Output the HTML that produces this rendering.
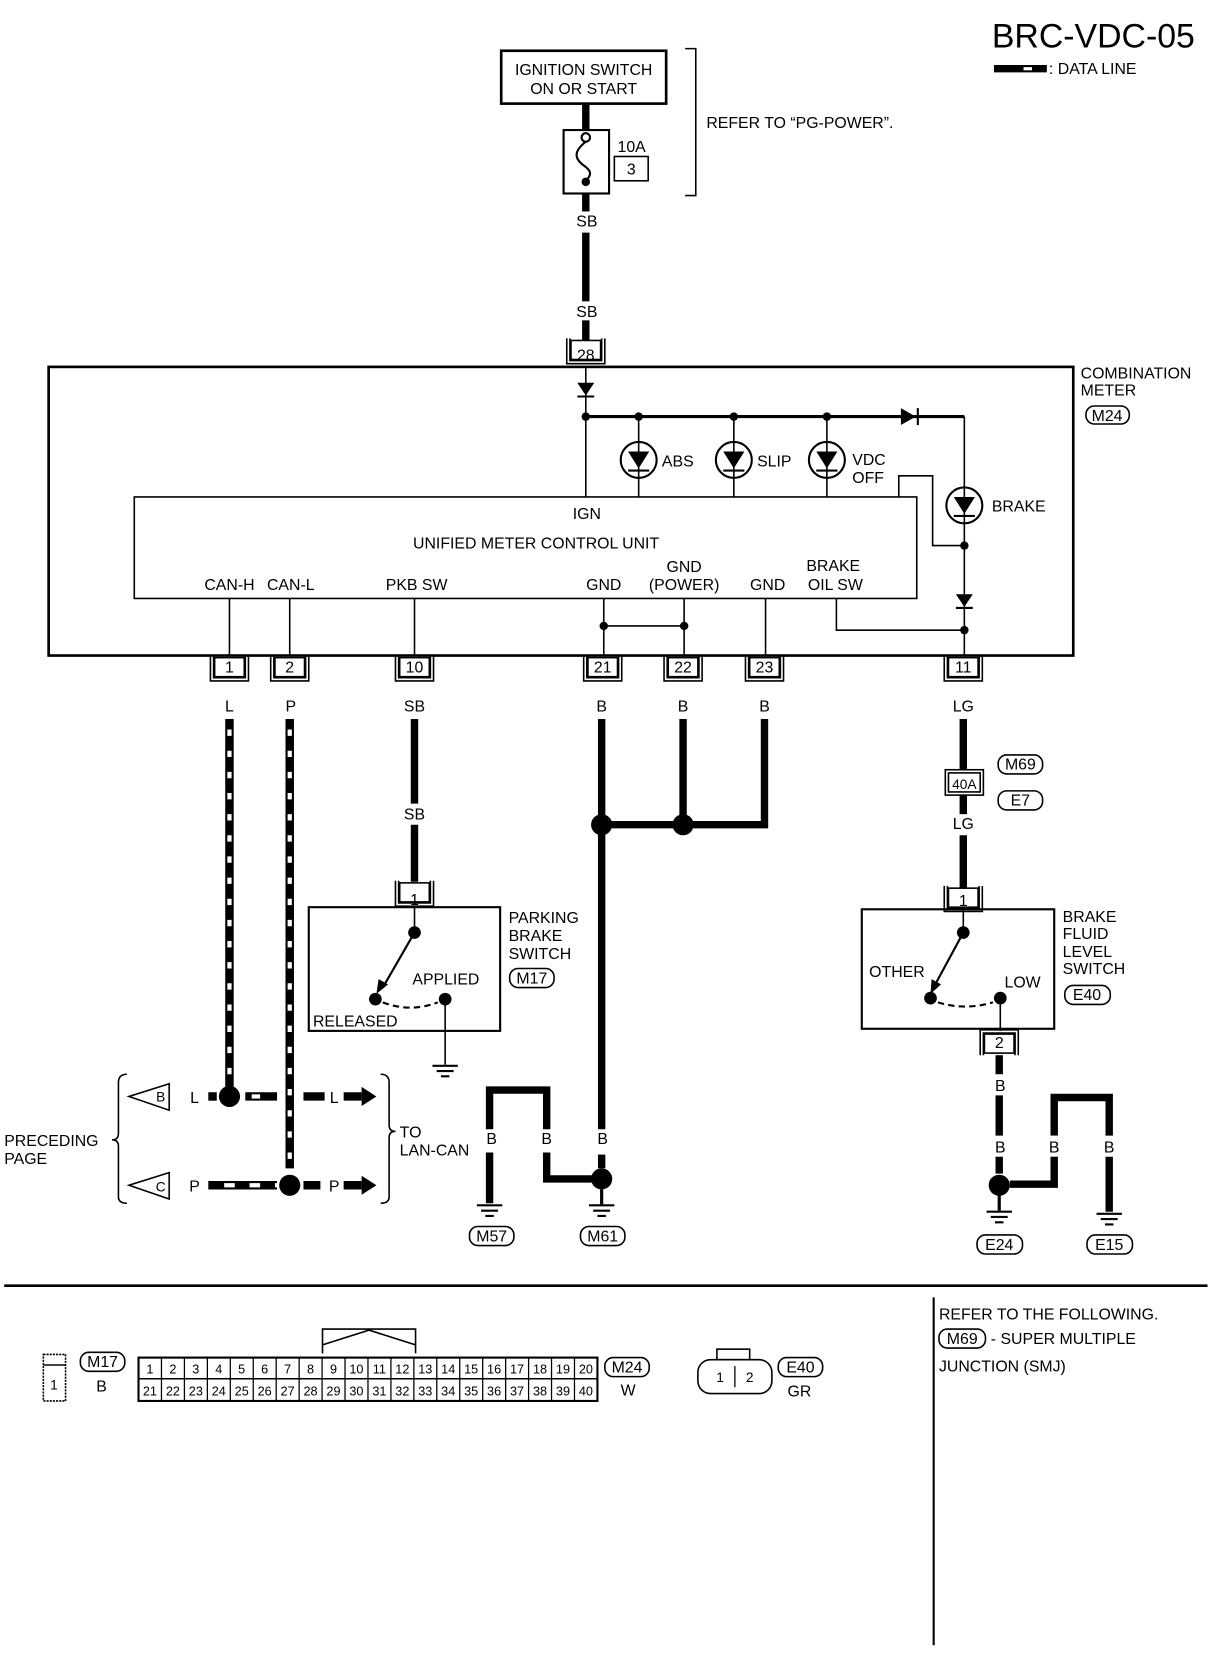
<!DOCTYPE html>
<html><head><meta charset="utf-8"><style>
html,body{margin:0;padding:0;background:#fff;width:1216px;height:1660px;overflow:hidden}
svg{display:block}
text{font-family:"Liberation Sans",sans-serif;font-size:15px;fill:#000}
</style></head><body>
<svg width="1216" height="1660" viewBox="0 0 1150 1570" preserveAspectRatio="none" xmlns="http://www.w3.org/2000/svg">
<defs>
<g id="conn"><rect x="-14" y="2" width="28" height="18" fill="#fff" stroke="#000" stroke-width="1.5"/><path d="M-18,0 V24 H18 V0 M-15,0 V21 H15 V0" fill="none" stroke="#000" stroke-width="1.5"/></g>
<g id="gnd"><path d="M-12,0 H12 M-8,5 H8 M-4,10 H4" stroke="#000" stroke-width="2"/></g>
</defs>
<rect width="1150" height="1570" fill="#fff"/>
<text x="1130" y="45" font-size="32" text-anchor="end" style="font-size:32px">BRC-VDC-05</text>
<line x1="940" y1="65" x2="990" y2="65" stroke="#000" stroke-width="7"/>
<line x1="968" y1="65" x2="976" y2="65" stroke="#fff" stroke-width="3"/>
<text x="992" y="70">: DATA LINE</text>

<!-- ignition -->
<rect x="474" y="48" width="156" height="50" fill="#fff" stroke="#000" stroke-width="2.5"/>
<text x="552" y="71" text-anchor="middle">IGNITION SWITCH</text>
<text x="552" y="89" text-anchor="middle">ON OR START</text>
<line x1="554" y1="98" x2="554" y2="123" stroke="#000" stroke-width="7"/>
<rect x="533" y="123" width="43" height="60" fill="#fff" stroke="#000" stroke-width="2"/>
<circle cx="554" cy="130" r="4" fill="#fff" stroke="#000" stroke-width="2"/>
<path d="M554,134 C540,145 545,152 554,158 C562,164 556,168 554,172" fill="none" stroke="#000" stroke-width="2"/>
<circle cx="554" cy="172" r="4"/>
<text x="584" y="144">10A</text>
<rect x="581" y="148" width="32" height="23" fill="none" stroke="#000" stroke-width="1.5"/>
<text x="597" y="165" text-anchor="middle">3</text>
<path d="M648,46 H658 V185 H648" fill="none" stroke="#000" stroke-width="1.5"/>
<text x="668" y="121">REFER TO “PG-POWER”.</text>
<line x1="554" y1="183" x2="554" y2="200" stroke="#000" stroke-width="7"/>
<text x="555" y="214" text-anchor="middle">SB</text>
<line x1="554" y1="220" x2="554" y2="285" stroke="#000" stroke-width="7"/>
<text x="555" y="300" text-anchor="middle">SB</text>
<line x1="554" y1="303" x2="554" y2="322" stroke="#000" stroke-width="7"/>
<use href="#conn" x="554" y="320"/><text x="554" y="341" text-anchor="middle">28</text>

<!-- combination meter -->
<rect x="46" y="347" width="969" height="273" fill="none" stroke="#000" stroke-width="2.5"/>
<text x="1022" y="358">COMBINATION</text><text x="1022" y="374">METER</text>
<rect x="1027" y="384" width="41" height="17" rx="8" fill="none" stroke="#000" stroke-width="1.5"/><text x="1047" y="398" text-anchor="middle">M24</text>
<g stroke="#000" stroke-width="1.5" fill="none">
<line x1="554" y1="347" x2="554" y2="470"/>
<line x1="604" y1="394" x2="604" y2="470"/>
<line x1="694" y1="394" x2="694" y2="470"/>
<line x1="782" y1="394" x2="782" y2="470"/>
<line x1="912" y1="394" x2="912" y2="620"/>
<path d="M850,470 V450 H882 V516 H912"/>
<rect x="127" y="470" width="740" height="96" fill="#fff"/>
<line x1="217" y1="566" x2="217" y2="620"/><line x1="274" y1="566" x2="274" y2="620"/>
<line x1="392" y1="566" x2="392" y2="620"/><line x1="571" y1="566" x2="571" y2="620"/>
<line x1="647" y1="566" x2="647" y2="620"/><line x1="724" y1="566" x2="724" y2="620"/>
<line x1="571" y1="592" x2="647" y2="592"/>
<path d="M791,566 V596 H912"/>
</g>
<line x1="554" y1="394" x2="912" y2="394" stroke="#000" stroke-width="3"/>
<path d="M546,362 H562 L554,374 Z"/><line x1="546" y1="375" x2="562" y2="375" stroke="#000" stroke-width="2"/>
<path d="M852,386 V402 L866,394 Z"/><line x1="868" y1="386" x2="868" y2="402" stroke="#000" stroke-width="2"/>
<path d="M904,562 H920 L912,574 Z"/><line x1="904" y1="575" x2="920" y2="575" stroke="#000" stroke-width="2"/>
<g>
<circle cx="554" cy="394" r="4"/><circle cx="604" cy="394" r="4"/><circle cx="694" cy="394" r="4"/><circle cx="782" cy="394" r="4"/>
<circle cx="912" cy="516" r="4"/><circle cx="912" cy="596" r="4"/><circle cx="571" cy="592" r="4"/><circle cx="647" cy="592" r="4"/>
</g>
<g fill="#fff" stroke="#000" stroke-width="2">
<circle cx="604" cy="435" r="17"/><circle cx="694" cy="435" r="17"/><circle cx="782" cy="435" r="17"/><circle cx="912" cy="478" r="17"/>
</g>
<g>
<path d="M594,427 H614 L604,443 Z"/><line x1="594" y1="445" x2="614" y2="445" stroke="#000" stroke-width="2"/><line x1="604" y1="418" x2="604" y2="452" stroke="#000" stroke-width="1.5"/>
<path d="M684,427 H704 L694,443 Z"/><line x1="684" y1="445" x2="704" y2="445" stroke="#000" stroke-width="2"/><line x1="694" y1="418" x2="694" y2="452" stroke="#000" stroke-width="1.5"/>
<path d="M772,427 H792 L782,443 Z"/><line x1="772" y1="445" x2="792" y2="445" stroke="#000" stroke-width="2"/><line x1="782" y1="418" x2="782" y2="452" stroke="#000" stroke-width="1.5"/>
<path d="M902,470 H922 L912,486 Z"/><line x1="902" y1="488" x2="922" y2="488" stroke="#000" stroke-width="2"/><line x1="912" y1="461" x2="912" y2="495" stroke="#000" stroke-width="1.5"/>
</g>
<text x="626" y="441">ABS</text><text x="716" y="441">SLIP</text><text x="806" y="440">VDC</text><text x="806" y="457">OFF</text><text x="938" y="484">BRAKE</text>
<text x="555" y="491" text-anchor="middle">IGN</text>
<text x="507" y="519" text-anchor="middle">UNIFIED METER CONTROL UNIT</text>
<text x="217" y="558" text-anchor="middle">CAN-H</text><text x="275" y="558" text-anchor="middle">CAN-L</text>
<text x="394" y="558" text-anchor="middle">PKB SW</text><text x="571" y="558" text-anchor="middle">GND</text>
<text x="647" y="541" text-anchor="middle">GND</text><text x="647" y="558" text-anchor="middle">(POWER)</text>
<text x="726" y="558" text-anchor="middle">GND</text>
<text x="788" y="540" text-anchor="middle">BRAKE</text><text x="790" y="558" text-anchor="middle">OIL SW</text>

<!-- connectors bottom -->
<use href="#conn" x="217" y="620"/><text x="217" y="636" text-anchor="middle">1</text>
<use href="#conn" x="274" y="620"/><text x="274" y="636" text-anchor="middle">2</text>
<use href="#conn" x="392" y="620"/><text x="392" y="636" text-anchor="middle">10</text>
<use href="#conn" x="570" y="620"/><text x="570" y="636" text-anchor="middle">21</text>
<use href="#conn" x="646" y="620"/><text x="646" y="636" text-anchor="middle">22</text>
<use href="#conn" x="723" y="620"/><text x="723" y="636" text-anchor="middle">23</text>
<use href="#conn" x="911" y="620"/><text x="911" y="636" text-anchor="middle">11</text>
<text x="217" y="673" text-anchor="middle">L</text><text x="275" y="673" text-anchor="middle">P</text>
<text x="392" y="673" text-anchor="middle">SB</text><text x="569" y="673" text-anchor="middle">B</text>
<text x="646" y="673" text-anchor="middle">B</text><text x="723" y="673" text-anchor="middle">B</text><text x="911" y="673" text-anchor="middle">LG</text>

<!-- data lines -->
<g stroke-width="8" stroke="#000" fill="none">
<line x1="217" y1="680" x2="217" y2="1030"/>
<line x1="274" y1="680" x2="274" y2="1105"/>
<line x1="197" y1="1037" x2="205" y2="1037"/><line x1="232" y1="1037" x2="262" y2="1037"/>
<line x1="287" y1="1037" x2="307" y2="1037"/><line x1="325" y1="1037" x2="342" y2="1037"/>
<line x1="197" y1="1121" x2="262" y2="1121"/><line x1="287" y1="1121" x2="303" y2="1121"/><line x1="325" y1="1121" x2="342" y2="1121"/>
</g>
<g stroke-width="4" stroke="#fff" stroke-dasharray="6 14" fill="none">
<line x1="217" y1="690" x2="217" y2="1025"/>
<line x1="274" y1="690" x2="274" y2="1100"/>
<line x1="238" y1="1037" x2="258" y2="1037" stroke-dasharray="8 30"/>
<line x1="212" y1="1121" x2="262" y2="1121" stroke-dasharray="10 14"/>
</g>
<circle cx="217" cy="1037" r="10"/><circle cx="274" cy="1121" r="10"/>
<path d="M342,1028 L356,1037 L342,1046 Z"/><path d="M342,1112 L356,1121 L342,1130 Z"/>
<path d="M160,1025 L122,1037 L160,1050 Z M160,1109 L122,1121 L160,1134 Z" fill="#fff" stroke="#000" stroke-width="1.5"/>
<text x="152" y="1042" text-anchor="middle" style="font-size:13px">B</text><text x="152" y="1127" text-anchor="middle" style="font-size:13px">C</text>
<text x="184" y="1043" text-anchor="middle">L</text><text x="316" y="1043" text-anchor="middle">L</text>
<text x="184" y="1127" text-anchor="middle">P</text><text x="316" y="1127" text-anchor="middle">P</text>
<path d="M120,1016 Q112,1016 112,1024 V1072 Q112,1078 106,1078 Q112,1078 112,1084 V1132 Q112,1138 120,1138" fill="none" stroke="#000" stroke-width="1.5"/>
<path d="M360,1016 Q368,1016 368,1024 V1064 Q368,1070 374,1070 Q368,1070 368,1076 V1132 Q368,1138 360,1138" fill="none" stroke="#000" stroke-width="1.5"/>
<text x="4" y="1084">PRECEDING</text><text x="4" y="1101">PAGE</text>
<text x="378" y="1076">TO</text><text x="378" y="1093">LAN-CAN</text>

<!-- parking brake -->
<g stroke="#000" stroke-width="7" fill="none">
<line x1="392" y1="680" x2="392" y2="760"/><line x1="392" y1="780" x2="392" y2="834"/>
<line x1="569" y1="680" x2="569" y2="1068"/><line x1="569" y1="1092" x2="569" y2="1105"/>
<line x1="646" y1="680" x2="646" y2="780"/>
<path d="M723,680 V780 H646"/><line x1="569" y1="780" x2="646" y2="780"/>
<path d="M463,1068 V1031 H517 V1068"/><line x1="463" y1="1090" x2="463" y2="1138"/>
<path d="M517,1090 V1115 H569"/>
</g>
<text x="392" y="775" text-anchor="middle">SB</text>
<use href="#conn" x="392" y="833"/><text x="392" y="856" text-anchor="middle">1</text>
<rect x="292" y="858" width="181" height="117" fill="none" stroke="#000" stroke-width="2"/>
<line x1="392" y1="858" x2="392" y2="882" stroke="#000" stroke-width="1.5"/>
<circle cx="392" cy="882" r="6"/><circle cx="355" cy="945" r="6"/><circle cx="421" cy="945" r="6"/>
<line x1="392" y1="882" x2="362" y2="934" stroke="#000" stroke-width="2"/><path d="M356,940 L358,926 L367,931 Z"/>
<path d="M362,948 Q388,958 414,948" fill="none" stroke="#000" stroke-width="2" stroke-dasharray="6 4"/>
<line x1="421" y1="945" x2="421" y2="1007" stroke="#000" stroke-width="1.5"/><use href="#gnd" x="421" y="1008"/>
<text x="390" y="931">APPLIED</text><text x="296" y="971">RELEASED</text>
<text x="481" y="873">PARKING</text><text x="481" y="890">BRAKE</text><text x="481" y="907">SWITCH</text>
<rect x="482" y="916" width="42" height="18" rx="8" fill="none" stroke="#000" stroke-width="1.5"/><text x="503" y="930" text-anchor="middle">M17</text>
<circle cx="569" cy="780" r="10"/><circle cx="646" cy="780" r="10"/>
<circle cx="569" cy="1115" r="10"/>
<text x="465" y="1082" text-anchor="middle">B</text><text x="517" y="1082" text-anchor="middle">B</text><text x="570" y="1082" text-anchor="middle">B</text>
<line x1="569" y1="1125" x2="569" y2="1139" stroke="#000" stroke-width="3"/><use href="#gnd" x="569" y="1140"/>
<use href="#gnd" x="463" y="1140"/>
<rect x="444" y="1160" width="42" height="18" rx="8" fill="none" stroke="#000" stroke-width="1.5"/><text x="465" y="1174" text-anchor="middle">M57</text>
<rect x="549" y="1160" width="42" height="18" rx="8" fill="none" stroke="#000" stroke-width="1.5"/><text x="570" y="1174" text-anchor="middle">M61</text>

<!-- brake fluid -->
<g stroke="#000" stroke-width="7" fill="none">
<line x1="911" y1="680" x2="911" y2="728"/><line x1="911" y1="752" x2="911" y2="770"/><line x1="911" y1="790" x2="911" y2="844"/>
<line x1="945" y1="998" x2="945" y2="1016"/><line x1="945" y1="1036" x2="945" y2="1074"/><line x1="945" y1="1094" x2="945" y2="1110"/>
<path d="M955,1120 H997 V1038 H1049 V1074"/><line x1="1049" y1="1094" x2="1049" y2="1146"/><line x1="997" y1="1074" x2="997" y2="1094" stroke="#fff"/>
</g>
<rect x="894" y="728" width="36" height="24" fill="#fff" stroke="#000" stroke-width="1.5"/><rect x="897" y="731" width="30" height="18" fill="none" stroke="#000" stroke-width="1.5"/>
<text x="912" y="746" text-anchor="middle" style="font-size:13px">40A</text>
<rect x="944" y="714" width="42" height="18" rx="8" fill="none" stroke="#000" stroke-width="1.5"/><text x="965" y="728" text-anchor="middle">M69</text>
<rect x="944" y="748" width="42" height="18" rx="8" fill="none" stroke="#000" stroke-width="1.5"/><text x="965" y="762" text-anchor="middle">E7</text>
<text x="911" y="784" text-anchor="middle">LG</text>
<use href="#conn" x="911" y="838"/><text x="911" y="857" text-anchor="middle">1</text>
<rect x="815" y="860" width="182" height="113" fill="none" stroke="#000" stroke-width="2"/>
<line x1="911" y1="860" x2="911" y2="882" stroke="#000" stroke-width="1.5"/>
<circle cx="911" cy="882" r="6"/><circle cx="880" cy="944" r="6"/><circle cx="946" cy="944" r="6"/>
<line x1="911" y1="882" x2="884" y2="932" stroke="#000" stroke-width="2"/><path d="M880,940 L881,926 L890,931 Z"/>
<path d="M887,948 Q913,956 939,948" fill="none" stroke="#000" stroke-width="2" stroke-dasharray="6 4"/>
<line x1="946" y1="944" x2="946" y2="975" stroke="#000" stroke-width="1.5"/>
<text x="822" y="924">OTHER</text><text x="950" y="934">LOW</text>
<text x="1005" y="872">BRAKE</text><text x="1005" y="888">FLUID</text><text x="1005" y="905">LEVEL</text><text x="1005" y="921">SWITCH</text>
<rect x="1007" y="932" width="43" height="18" rx="8" fill="none" stroke="#000" stroke-width="1.5"/><text x="1028" y="946" text-anchor="middle">E40</text>
<g transform="translate(945,998) scale(1,-1)"><use href="#conn" x="0" y="0"/></g>
<text x="945" y="991" text-anchor="middle">2</text>
<text x="946" y="1032" text-anchor="middle">B</text><text x="946" y="1090" text-anchor="middle">B</text>
<text x="997" y="1090" text-anchor="middle">B</text><text x="1049" y="1090" text-anchor="middle">B</text>
<circle cx="945" cy="1121" r="10"/>
<line x1="945" y1="1130" x2="945" y2="1145" stroke="#000" stroke-width="3"/><use href="#gnd" x="945" y="1146"/>
<use href="#gnd" x="1049" y="1148"/>
<rect x="924" y="1168" width="43" height="18" rx="8" fill="none" stroke="#000" stroke-width="1.5"/><text x="945" y="1182" text-anchor="middle">E24</text>
<rect x="1028" y="1168" width="43" height="18" rx="8" fill="none" stroke="#000" stroke-width="1.5"/><text x="1049" y="1182" text-anchor="middle">E15</text>

<!-- bottom -->
<line x1="4" y1="1216" x2="1142" y2="1216" stroke="#000" stroke-width="2.5"/>
<line x1="883" y1="1227" x2="883" y2="1556" stroke="#000" stroke-width="2"/>
<text x="888" y="1248">REFER TO THE FOLLOWING.</text>
<rect x="888" y="1257" width="44" height="18" rx="8" fill="none" stroke="#000" stroke-width="1.5"/><text x="910" y="1271" text-anchor="middle">M69</text>
<text x="937" y="1271">- SUPER MULTIPLE</text>
<text x="888" y="1297">JUNCTION (SMJ)</text>

<rect x="41" y="1281" width="21" height="44" fill="none" stroke="#000" stroke-width="1.5" stroke-dasharray="2 1"/><line x1="41" y1="1291" x2="62" y2="1291" stroke="#000" stroke-width="1.5"/>
<text x="51" y="1314" text-anchor="middle" style="font-size:13px">1</text>
<rect x="76" y="1279" width="42" height="18" rx="8" fill="none" stroke="#000" stroke-width="1.5"/><text x="97" y="1293" text-anchor="middle">M17</text>
<text x="96" y="1316" text-anchor="middle">B</text>

<path d="M305,1280 V1257 H393 V1280 M305,1272 L349,1258 L393,1272" fill="none" stroke="#000" stroke-width="1.5"/>
<rect x="131" y="1284" width="434" height="41" fill="none" stroke="#000" stroke-width="2"/>
<line x1="131" y1="1304" x2="565" y2="1304" stroke="#000" stroke-width="1.5"/>
<g stroke="#000" stroke-width="1.2">
<line x1="152.7" y1="1284" x2="152.7" y2="1325"/><line x1="174.4" y1="1284" x2="174.4" y2="1325"/><line x1="196.1" y1="1284" x2="196.1" y2="1325"/><line x1="217.8" y1="1284" x2="217.8" y2="1325"/><line x1="239.5" y1="1284" x2="239.5" y2="1325"/><line x1="261.2" y1="1284" x2="261.2" y2="1325"/><line x1="282.9" y1="1284" x2="282.9" y2="1325"/><line x1="304.6" y1="1284" x2="304.6" y2="1325"/><line x1="326.3" y1="1284" x2="326.3" y2="1325"/><line x1="348" y1="1284" x2="348" y2="1325"/><line x1="369.7" y1="1284" x2="369.7" y2="1325"/><line x1="391.4" y1="1284" x2="391.4" y2="1325"/><line x1="413.1" y1="1284" x2="413.1" y2="1325"/><line x1="434.8" y1="1284" x2="434.8" y2="1325"/><line x1="456.5" y1="1284" x2="456.5" y2="1325"/><line x1="478.2" y1="1284" x2="478.2" y2="1325"/><line x1="499.9" y1="1284" x2="499.9" y2="1325"/><line x1="521.6" y1="1284" x2="521.6" y2="1325"/><line x1="543.3" y1="1284" x2="543.3" y2="1325"/>
</g>
<g style="font-size:12px" text-anchor="middle">
<text x="141.8" y="1299" style="font-size:12px">1</text><text x="163.5" y="1299" style="font-size:12px">2</text><text x="185.2" y="1299" style="font-size:12px">3</text><text x="206.9" y="1299" style="font-size:12px">4</text><text x="228.6" y="1299" style="font-size:12px">5</text><text x="250.3" y="1299" style="font-size:12px">6</text><text x="272" y="1299" style="font-size:12px">7</text><text x="293.7" y="1299" style="font-size:12px">8</text><text x="315.4" y="1299" style="font-size:12px">9</text><text x="337.1" y="1299" style="font-size:12px">10</text><text x="358.8" y="1299" style="font-size:12px">11</text><text x="380.5" y="1299" style="font-size:12px">12</text><text x="402.2" y="1299" style="font-size:12px">13</text><text x="423.9" y="1299" style="font-size:12px">14</text><text x="445.6" y="1299" style="font-size:12px">15</text><text x="467.3" y="1299" style="font-size:12px">16</text><text x="489" y="1299" style="font-size:12px">17</text><text x="510.7" y="1299" style="font-size:12px">18</text><text x="532.4" y="1299" style="font-size:12px">19</text><text x="554.1" y="1299" style="font-size:12px">20</text>
<text x="141.8" y="1320" style="font-size:12px">21</text><text x="163.5" y="1320" style="font-size:12px">22</text><text x="185.2" y="1320" style="font-size:12px">23</text><text x="206.9" y="1320" style="font-size:12px">24</text><text x="228.6" y="1320" style="font-size:12px">25</text><text x="250.3" y="1320" style="font-size:12px">26</text><text x="272" y="1320" style="font-size:12px">27</text><text x="293.7" y="1320" style="font-size:12px">28</text><text x="315.4" y="1320" style="font-size:12px">29</text><text x="337.1" y="1320" style="font-size:12px">30</text><text x="358.8" y="1320" style="font-size:12px">31</text><text x="380.5" y="1320" style="font-size:12px">32</text><text x="402.2" y="1320" style="font-size:12px">33</text><text x="423.9" y="1320" style="font-size:12px">34</text><text x="445.6" y="1320" style="font-size:12px">35</text><text x="467.3" y="1320" style="font-size:12px">36</text><text x="489" y="1320" style="font-size:12px">37</text><text x="510.7" y="1320" style="font-size:12px">38</text><text x="532.4" y="1320" style="font-size:12px">39</text><text x="554.1" y="1320" style="font-size:12px">40</text>
</g>
<rect x="572" y="1284" width="42" height="18" rx="8" fill="none" stroke="#000" stroke-width="1.5"/><text x="593" y="1298" text-anchor="middle">M24</text>
<text x="594" y="1320" text-anchor="middle">W</text>

<rect x="678" y="1276" width="31" height="10" fill="none" stroke="#000" stroke-width="1.5"/>
<rect x="660" y="1286" width="70" height="32" rx="12" fill="#fff" stroke="#000" stroke-width="1.5"/>
<line x1="695" y1="1292" x2="695" y2="1312" stroke="#000" stroke-width="1.2"/>
<text x="681" y="1307" text-anchor="middle" style="font-size:13px">1</text><text x="709" y="1307" text-anchor="middle" style="font-size:13px">2</text>
<rect x="736" y="1284" width="42" height="18" rx="8" fill="none" stroke="#000" stroke-width="1.5"/><text x="757" y="1298" text-anchor="middle">E40</text>
<text x="756" y="1321" text-anchor="middle">GR</text>
</svg>
</body></html>
